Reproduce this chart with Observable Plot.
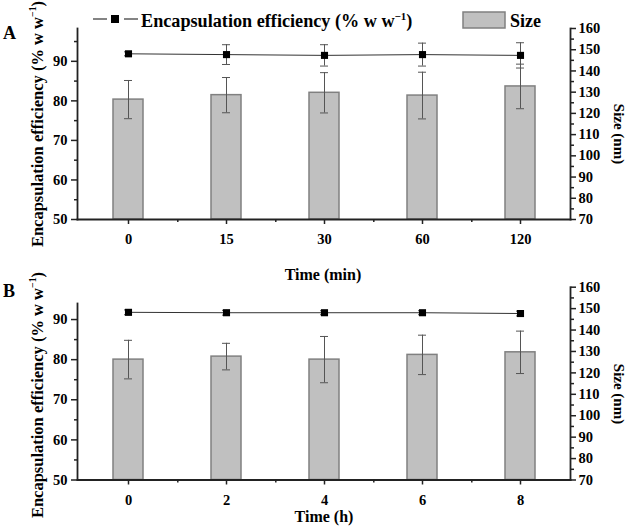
<!DOCTYPE html>
<html><head><meta charset="utf-8">
<script src="https://cdn.jsdelivr.net/npm/d3@7"></script>
<script src="https://cdn.jsdelivr.net/npm/@observablehq/plot@0.6"></script>
<style>
body{margin:0;background:#fff;}
#wrap{position:relative;width:629px;height:526px;overflow:hidden;background:#fff}
#wrap svg{position:absolute;left:0}
</style></head><body><div id="wrap"></div>
<script>
// Panel A: storage time (min)
const timesA = ["0","15","30","60","120"];
const sizeA = [126.5, 128.6, 129.7, 128.4, 132.7];
const sizeErrA = [9.0, 8.3, 9.5, 11.0, 10.5];
const eeA = [91.9, 91.7, 91.5, 91.7, 91.5];
const eeErrA = [0.5, 2.5, 2.7, 2.9, 3.2];
// Panel B: storage time (h)
const timesB = ["0","2","4","6","8"];
const sizeB = [126.2, 127.6, 126.2, 128.4, 129.6];
const sizeErrB = [9.0, 6.2, 10.8, 9.2, 9.9];
const eeB = [91.8, 91.7, 91.7, 91.7, 91.5];
const eeErrB = [0.6, 0.6, 0.5, 0.5, 0.6];
// axis ticks
const eeTicks = [50, 60, 70, 80, 90];
const eeMinor = [55, 65, 75, 85, 95];
const sizeTicks = [70, 80, 90, 100, 110, 120, 130, 140, 150, 160];
const sizeMinor = [75, 85, 95, 105, 115, 125, 135, 145, 155];

const W = 629, H = 263, ML = 77, MR = 59;
const STEP = (W - ML - MR) / 5;
const font = {fontFamily: "'Liberation Serif','Times New Roman',serif", fontSize: "14.5px", fontWeight: "bold", background: "transparent", color: "#000"};
const AX = "#222";
const noLabel = () => "";

function panel(times, size, sizeErr, ee, eeErr, top, cfg) {
  const data = times.map((t, i) => ({t, size: size[i], se: sizeErr[i], ee: ee[i], ee_e: eeErr[i]}));
  const bars = Plot.plot({
    width: W, height: H, marginLeft: ML, marginRight: MR,
    marginTop: cfg.barTop, marginBottom: cfg.bottom,
    style: font,
    x: {type: "band", domain: times, padding: 0, axis: null},
    y: {domain: [70, 160], axis: null},
    marks: [
      Plot.barY(data, {x: "t", y1: 70, y2: "size", fill: "#c0c0c0", stroke: "#808080", strokeWidth: 1.5, insetLeft: 34, insetRight: 34}),
      Plot.ruleX(data, {x: "t", y1: d => d.size - d.se, y2: d => d.size + d.se, stroke: "#555", strokeWidth: 1}),
      Plot.tickY(data, {x: "t", y: d => d.size + d.se, stroke: "#555", strokeWidth: 1, insetLeft: 45, insetRight: 45}),
      Plot.tickY(data, {x: "t", y: d => d.size - d.se, stroke: "#555", strokeWidth: 1, insetLeft: 45, insetRight: 45}),
      Plot.axisY({anchor: "right", ticks: sizeTicks, tickSize: 5, tickPadding: 3, label: null, stroke: AX, strokeWidth: 1.5}),
      Plot.axisY({anchor: "right", ticks: sizeMinor, tickSize: 3, tickFormat: noLabel, label: null, stroke: AX, strokeWidth: 1.5}),
      Plot.frame({anchor: "right", stroke: AX, strokeWidth: 1.8}),
      Plot.frame({anchor: "bottom", stroke: AX, strokeWidth: 1.8})
    ]
  });
  const line = Plot.plot({
    width: W, height: H, marginLeft: ML, marginRight: MR,
    marginTop: cfg.eeTop, marginBottom: cfg.bottom,
    style: font,
    x: {type: "band", domain: times, padding: 0, label: null},
    y: {domain: [50, cfg.eeMax], label: null},
    marks: [
      Plot.axisX({ticks: times, tickSize: 5, tickPadding: cfg.xPad, label: null, stroke: AX, strokeWidth: 1.5}),
      Plot.axisX({ticks: times.slice(0, 4), dx: STEP / 2, tickSize: 3, tickFormat: noLabel, label: null, stroke: AX, strokeWidth: 1.5}),
      Plot.axisY({ticks: eeTicks, tickSize: 6, tickPadding: 4, label: null, stroke: AX, strokeWidth: 1.5}),
      Plot.axisY({ticks: eeMinor.filter(v => v <= cfg.eeMax), tickSize: 3, tickFormat: noLabel, label: null, stroke: AX, strokeWidth: 1.5}),
      Plot.frame({anchor: "left", stroke: AX, strokeWidth: 1.8}),
      Plot.ruleX(data, {x: "t", y1: d => d.ee - d.ee_e, y2: d => d.ee + d.ee_e, stroke: "#555", strokeWidth: 1}),
      Plot.tickY(data, {x: "t", y: d => d.ee + d.ee_e, stroke: "#555", strokeWidth: 1, insetLeft: 45, insetRight: 45}),
      Plot.tickY(data, {x: "t", y: d => d.ee - d.ee_e, stroke: "#555", strokeWidth: 1, insetLeft: 45, insetRight: 45}),
      Plot.line(data, {x: "t", y: "ee", stroke: "#333", strokeWidth: 1}),
      Plot.dot(data, {x: "t", y: "ee", symbol: "square", r: 4, fill: "#000", stroke: "none"})
    ]
  });
  bars.style.top = top + "px";
  line.style.top = top + "px";
  document.getElementById("wrap").append(bars, line);
}

panel(timesA, sizeA, sizeErrA, eeA, eeErrA, 0, {barTop: 28, eeTop: 28, eeMax: 98.3, bottom: 44, xPad: 9});
panel(timesB, sizeB, sizeErrB, eeB, eeErrB, 263, {barTop: 23.7, eeTop: 40, eeMax: 94, bottom: 46.5, xPad: 10});

// text overlay
const ov = d3.select("#wrap").append("svg")
  .attr("width", W).attr("height", 526).style("top", "0px")
  .style("font-family", "'Liberation Serif','Times New Roman',serif").style("font-weight", "bold");

function eeTitle(g, size) {
  const t = g.append("text").attr("font-size", size).attr("text-anchor", "middle");
  t.append("tspan").text("Encapsulation efficiency (% w w");
  t.append("tspan").attr("font-size", size * 0.6).attr("dy", -size * 0.4).text("−1");
  t.append("tspan").attr("dy", size * 0.4).text(")");
  return t;
}
ov.append("text").attr("x", 3).attr("y", 39).attr("font-size", 18).text("A");
ov.append("text").attr("x", 3).attr("y", 297).attr("font-size", 18).text("B");

// legend
ov.append("line").attr("x1", 93).attr("x2", 107).attr("y1", 19).attr("y2", 19).attr("stroke", "#333").attr("stroke-width", 1.2);
ov.append("line").attr("x1", 124).attr("x2", 138).attr("y1", 19).attr("y2", 19).attr("stroke", "#333").attr("stroke-width", 1.2);
ov.append("rect").attr("x", 111).attr("y", 15).attr("width", 8).attr("height", 8).attr("fill", "#000");
eeTitle(ov.append("g").attr("transform", "translate(141,27)"), 18.2).attr("text-anchor", "start");
ov.append("rect").attr("x", 463).attr("y", 12).attr("width", 42).attr("height", 16).attr("fill", "#c0c0c0").attr("stroke", "#808080").attr("stroke-width", 1.5);
ov.append("text").attr("x", 510).attr("y", 27).attr("font-size", 18).text("Size");

// axis titles
eeTitle(ov.append("g").attr("transform", "translate(43,124) rotate(-90)"), 16.5);
eeTitle(ov.append("g").attr("transform", "translate(43,395) rotate(-90)"), 16.5);
ov.append("text").attr("transform", "translate(614,134) rotate(90)").attr("text-anchor", "middle").attr("font-size", 15).text("Size (nm)");
ov.append("text").attr("transform", "translate(614,394) rotate(90)").attr("text-anchor", "middle").attr("font-size", 15).text("Size (nm)");
ov.append("text").attr("x", 323).attr("y", 280).attr("text-anchor", "middle").attr("font-size", 16).text("Time (min)");
ov.append("text").attr("x", 324).attr("y", 522).attr("text-anchor", "middle").attr("font-size", 16).text("Time (h)");
</script></body></html>
